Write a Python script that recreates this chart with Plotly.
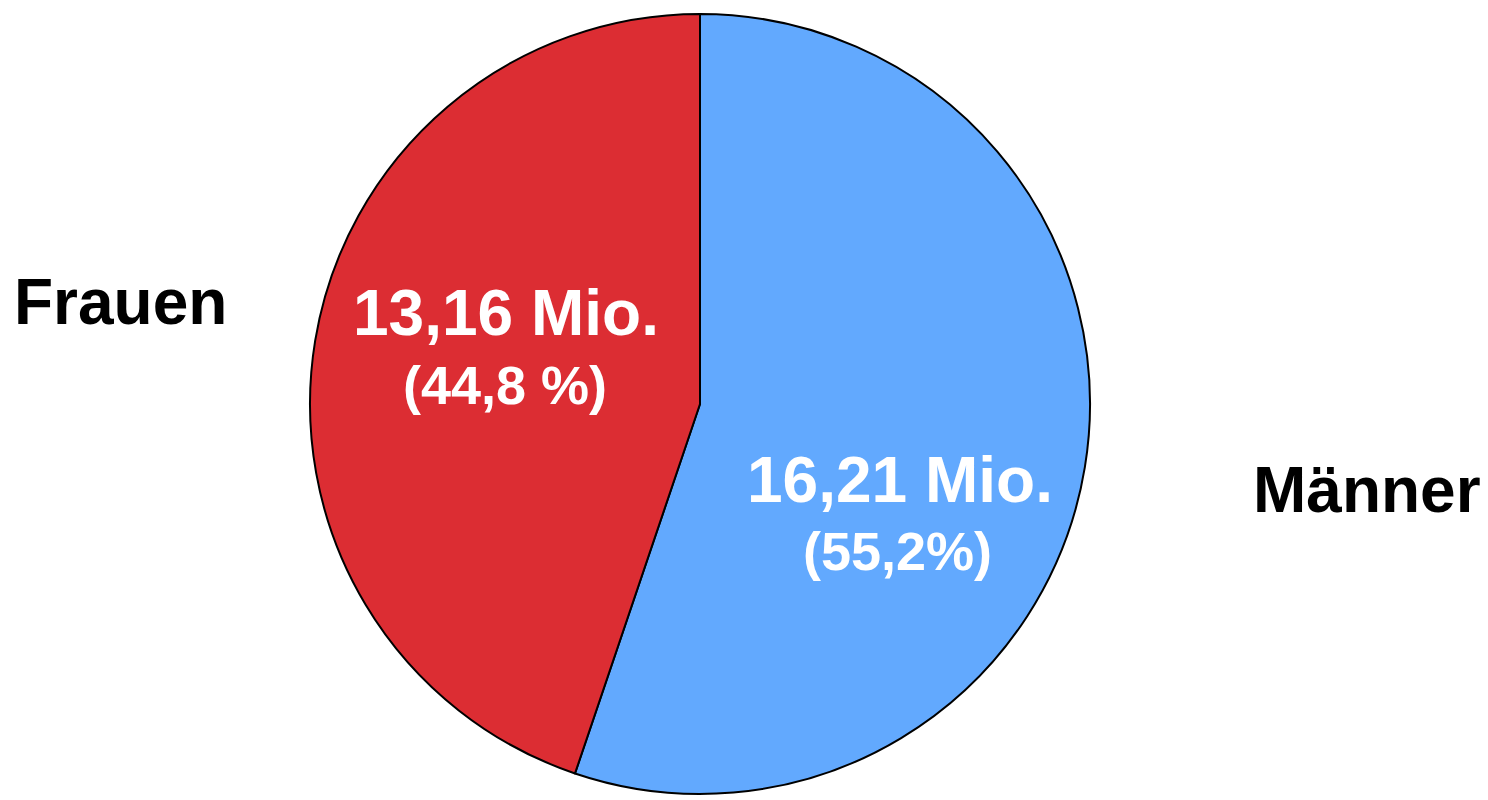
import plotly.graph_objects as go

# Erwerbstätige nach Geschlecht
labels = ["Männer", "Frauen"]
values = [16.21, 13.16]
shares = ["(55,2%)", "(44,8 %)"]
value_text = ["16,21 Mio.", "13,16 Mio."]
colors = ["#62A9FE", "#DC2D33"]

W, H = 1488, 800
off = 8  # Seitenrand des Browsers
cx, cy, r = 700 - off, 404 - off, 390

fig = go.Figure(go.Pie(
    labels=labels,
    values=values,
    sort=False,
    direction="clockwise",
    rotation=0,
    marker=dict(colors=colors, line=dict(color="black", width=2)),
    textinfo="none",
    hoverinfo="label+value",
    showlegend=False,
    domain=dict(x=[(cx - r) / W, (cx + r) / W], y=[1 - (cy + r) / H, 1 - (cy - r) / H]),
))

font = "Liberation Sans, Arial, sans-serif"


def add_text(txt, x, y, size, color):
    fig.add_annotation(text="<b>" + txt + "</b>", x=(x - off) / W, y=1 - (y - off) / H,
                       xref="paper", yref="paper", showarrow=False,
                       xanchor="center", yanchor="middle",
                       font=dict(family=font, size=size, color=color))


# Werte in den Segmenten
add_text(value_text[1], 506, 313, 64, "white")
add_text(shares[1], 505, 385, 54, "white")
add_text(value_text[0], 900, 480, 64, "white")
add_text(shares[0], 897, 551, 54, "white")

# Beschriftungen außen
add_text(labels[1], 120, 302, 64, "black")
add_text(labels[0], 1367, 490, 64, "black")

fig.update_layout(
    width=W, height=H,
    margin=dict(l=0, r=0, t=0, b=0),
    paper_bgcolor="white",
    plot_bgcolor="white",
)

fig.write_html("out.html")
